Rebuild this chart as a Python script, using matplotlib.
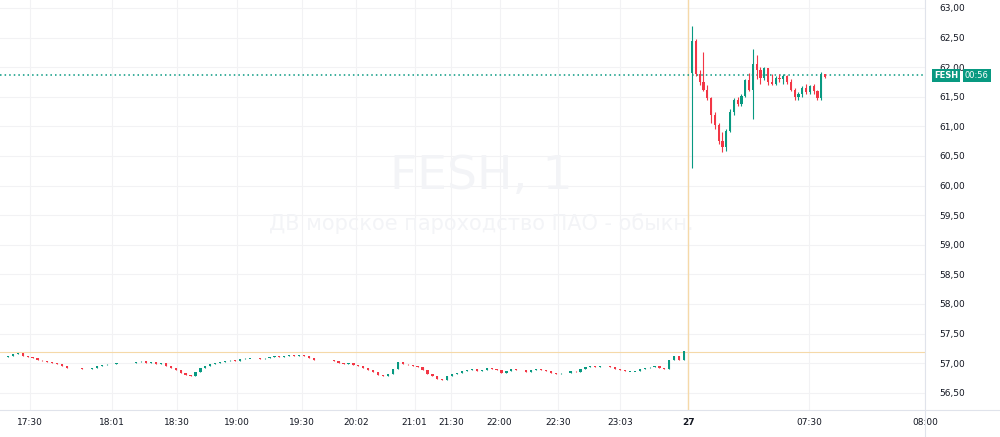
import matplotlib.pyplot as plt
import matplotlib.transforms as mtransforms
import numpy as np

# ── Data ──────────────────────────────────────────────────────────────────────
# evening session, closes (one candle per slot)
evening_close = [
    57.12, 57.15, 57.17, 57.12, 57.10, 57.08, 57.05, 57.04, 57.02,
    57.00, 56.98, 56.95, 56.92, 56.92, 56.92, 56.90, 56.90, 56.92, 56.95,
    56.97, 56.98, 56.99, 57.00, 57.00, 57.01, 57.00, 57.02, 57.03, 57.00,
    57.02, 56.98, 57.00, 56.95, 56.92, 56.88, 56.84, 56.80, 56.78, 56.85,
    56.92, 56.96, 56.98, 57.00, 57.02, 57.04, 57.05, 57.03, 57.07, 57.08,
    57.08, 57.09, 57.07, 57.08, 57.10, 57.12, 57.10, 57.12, 57.13, 57.12,
    57.14, 57.12, 57.08, 57.05, 57.06, 57.05, 57.06, 57.03, 57.00, 56.98,
    57.00, 56.97, 56.95, 56.92, 56.88, 56.85, 56.80, 56.78, 56.82, 56.90,
    57.02, 56.98, 56.97, 56.95, 56.93, 56.88, 56.82, 56.78, 56.74, 56.72,
    56.78, 56.82, 56.84, 56.86, 56.88, 56.90, 56.87, 56.89, 56.92, 56.90,
    56.88, 56.84, 56.86, 56.90, 56.89, 56.88, 56.85, 56.88, 56.90, 56.88,
    56.86, 56.84, 56.82, 56.83, 56.84, 56.86, 56.85, 56.90, 56.93, 56.95,
    56.94, 56.96, 56.95, 56.93, 56.90, 56.88, 56.86, 56.86, 56.87, 56.90,
    56.92, 56.93, 56.95, 56.92, 56.90, 57.05, 57.12, 57.05, 57.20,
]
evening_open0 = 57.10

# morning session: open, high, low, close
morning = [
    (61.90, 62.70, 60.30, 62.45), (62.45, 62.48, 61.85, 61.88),
    (61.88, 61.95, 61.70, 61.75), (61.75, 62.25, 61.60, 61.62),
    (61.62, 61.70, 61.45, 61.48), (61.48, 61.50, 61.05, 61.20),
    (61.20, 61.25, 60.95, 61.02), (61.02, 61.05, 60.70, 60.75),
    (60.75, 60.90, 60.57, 60.65), (60.65, 60.95, 60.58, 60.92),
    (60.92, 61.30, 60.90, 61.25), (61.25, 61.48, 61.20, 61.45),
    (61.45, 61.50, 61.35, 61.38), (61.38, 61.55, 61.35, 61.52),
    (61.52, 61.80, 61.50, 61.78), (61.78, 61.90, 61.60, 61.62),
    (61.62, 62.30, 61.12, 62.05), (62.05, 62.20, 61.80, 61.95),
    (61.95, 62.00, 61.72, 61.82), (61.82, 62.00, 61.78, 61.98),
    (61.98, 61.98, 61.70, 61.75), (61.75, 61.88, 61.70, 61.72),
    (61.72, 61.85, 61.70, 61.82), (61.82, 61.88, 61.75, 61.80),
    (61.80, 61.88, 61.72, 61.85), (61.85, 61.87, 61.72, 61.75),
    (61.75, 61.80, 61.60, 61.62), (61.62, 61.65, 61.45, 61.50),
    (61.50, 61.58, 61.45, 61.55), (61.55, 61.68, 61.50, 61.65),
    (61.65, 61.72, 61.55, 61.58), (61.58, 61.70, 61.55, 61.68),
    (61.68, 61.72, 61.55, 61.60), (61.60, 61.62, 61.45, 61.48),
    (61.48, 61.92, 61.45, 61.88), (61.88, 61.88, 61.82, 61.84),
]
last_price = 61.86
cross_price = 57.19

time_ticks = [4.4, 21.0, 34.2, 46.4, 59.6, 70.6, 82.4, 89.8, 99.6, 111.4, 124.0, 137.8, 162.4, 185.8]
time_labels = ["17:30", "18:01", "18:30", "19:00", "19:30", "20:02", "21:01", "21:30",
               "22:00", "22:30", "23:03", "27", "07:30", "08:00"]
price_ticks = [56.5, 57.0, 57.5, 58.0, 58.5, 59.0, 59.5, 60.0, 60.5, 61.0, 61.5, 62.0, 62.5, 63.0]

# ── Style ─────────────────────────────────────────────────────────────────────
GREEN = "#089981"
RED = "#f23645"
GRID = "#f2f2f4"
TXT = "#131722"
MORNING_START = 138.6
MORNING_STEP = 0.77
W = 0.45

fig = plt.figure(figsize=(10, 4.37), dpi=100)
ax = fig.add_axes([0.0, 0.062, 0.925, 0.938])
ax.set_xlim(-1.6, 183.4)
ax.set_ylim(56.21, 63.135)

def candle(x, o, h, l, c):
    col = GREEN if c >= o else RED
    ax.vlines(x, l, h, color=col, linewidth=0.8, zorder=3)
    lo, hi = min(o, c), max(o, c)
    if hi - lo < 0.01:
        lo, hi = lo - 0.004, lo + 0.004
    ax.add_patch(plt.Rectangle((x - W / 2, lo), W, hi - lo, color=col, zorder=4, lw=0))

prev = evening_open0
for i, c in enumerate(evening_close):
    candle(i, prev, max(prev, c), min(prev, c), c)
    prev = c
for j, (o, h, l, c) in enumerate(morning):
    candle(MORNING_START + j * MORNING_STEP, o, h, l, c)

# grid
for t in time_ticks:
    ax.axvline(t, color=GRID, lw=0.8, zorder=0)
for p in price_ticks:
    ax.axhline(p, color=GRID, lw=0.8, zorder=0)

# crosshair + last price line
ax.axvline(137.8, color="#f5d9a8", lw=1.0, zorder=1)
ax.axhline(cross_price, color="#f5d9a8", lw=0.8, zorder=1)
ax.axhline(last_price, color=GREEN, lw=1.1, ls=(0, (1, 2)), zorder=2)

# watermark
ax.text(0.52, 0.57, "FESH, 1", transform=ax.transAxes, ha="center", va="center",
        fontsize=34, color="#f3f4f7", zorder=0)
ax.text(0.52, 0.455, "ДВ морское пароходство ПАО - обыкн.", transform=ax.transAxes,
        ha="center", va="center", fontsize=15, color="#f3f4f7", zorder=0)

# axes styling
for s in ax.spines.values():
    s.set_visible(False)
ax.yaxis.tick_right()
ax.set_yticks(price_ticks)
ax.set_yticklabels([f"{p:.2f}".replace(".", ",") for p in price_ticks])
ax.set_xticks(time_ticks)
ax.set_xticklabels(time_labels)
ax.tick_params(axis="both", length=0, labelsize=6.5, labelcolor=TXT)
ax.tick_params(axis="y", pad=10)
ax.tick_params(axis="x", pad=6)
for lbl in ax.get_xticklabels():
    if lbl.get_text() == "27":
        lbl.set_fontweight("bold")

# price label on right axis
tr = mtransforms.blended_transform_factory(ax.transAxes, ax.transData)
ax.text(1.010, last_price, "FESH", transform=tr, ha="left", va="center", fontsize=6,
        color="white", fontweight="bold",
        bbox=dict(boxstyle="square,pad=0.25", fc=GREEN, ec="none"), clip_on=False)
ax.text(1.043, last_price, "00:56", transform=tr, ha="left", va="center", fontsize=6,
        color="white", bbox=dict(boxstyle="square,pad=0.25", fc=GREEN, ec="none"),
        clip_on=False)

fig.add_artist(plt.Line2D([0.925, 0.925], [0.0, 1.0], color="#e0e3eb", lw=0.8))
fig.add_artist(plt.Line2D([0, 1], [0.062, 0.062], color="#e0e3eb", lw=0.8))

fig.savefig("out.png", dpi=100, facecolor="white")
